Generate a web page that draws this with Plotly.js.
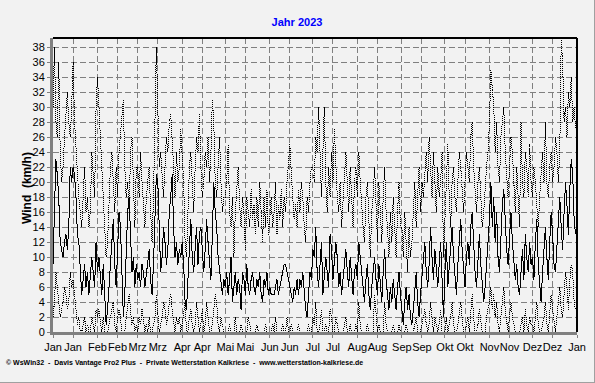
<!DOCTYPE html>
<html>
<head>
<meta charset="utf-8">
<script src="https://cdn.plot.ly/plotly-3.0.1.min.js"></script>
<style>
html,body{margin:0;padding:0;background:#f2f2f2;}
#chart{width:594px;height:382px;border-right:1px solid #a0a0a0;border-bottom:1px solid #a0a0a0;}
#chart .scatterlayer path.js-line{shape-rendering:crispEdges;}
</style>
</head>
<body>
<div id="chart"></div>
<script>
// Month tick labels (German)
const monthNames = ['Jan','Feb','Mrz','Apr','Mai','Jun','Jul','Aug','Sep','Okt','Nov','Dez'];

// Daily mean wind speed 2023 (km/h), Jan 1 .. Dec 31
const meanWind = [
  9,15,23,21,18,12,11,10,12,13,11,14,22,20,22,21,18,13,12,8,5,7,9,6,8,5,7,10,8,6,12,
  8,10,7,5,9,4,1,3,6,9,12,15,9,6,11,16,14,7,2,5,10,16,18,12,8,10,6,9,
  7,8,6,9,8,6,8,9,11,7,5,9,14,21,20,12,8,10,14,12,9,11,16,18,21,14,10,12,9,11,10,
  12,9,4,3,7,12,15,10,8,11,14,9,13,14,10,8,11,15,12,9,7,13,20,16,14,10,8,6,5,7,
  6,8,5,7,10,4,6,8,5,7,6,3,8,7,5,9,6,5,7,8,6,5,7,6,8,5,4,7,6,8,5,
  6,5,5,5,6,7,5,6,7,8,9,9,8,7,6,5,4,6,5,7,5,7,6,8,5,3,2,6,8,7,
  11,10,14,8,6,9,12,5,7,10,8,6,13,11,7,9,12,10,6,8,5,7,9,11,8,6,10,7,5,8,9,
  7,12,10,8,6,4,7,9,5,3,6,8,10,7,5,9,6,4,8,11,7,5,3,6,4,7,5,3,6,8,5,
  3,1,4,6,3,5,2,1,3,6,8,4,2,5,7,10,12,8,6,9,14,10,7,11,8,6,9,12,7,2,
  8,12,6,9,11,14,10,7,5,9,13,15,11,8,6,10,12,9,14,16,11,8,6,10,13,9,7,4,6,9,12,
  15,20,14,18,12,16,10,8,13,17,19,14,11,9,13,16,12,10,7,9,6,5,8,11,7,13,10,8,12,9,
  10,7,12,15,9,6,4,8,11,14,10,7,12,16,13,9,8,12,15,18,14,11,16,20,17,13,19,23,21,15,13
];

// Daily maximum (gust) 2023 (km/h)
const maxWind = [
  30,38,28,26,36,24,20,22,26,30,32,28,26,30,36,28,24,20,18,16,14,18,22,16,18,14,16,24,20,18,30,
  34,30,26,22,20,14,10,12,18,22,24,20,16,22,18,24,26,28,31,22,18,20,16,24,26,20,14,22,
  22,18,24,20,16,14,18,20,22,16,12,18,26,38,30,22,24,20,18,22,26,24,28,29,26,22,18,24,20,22,27,
  23,20,12,10,16,22,24,20,16,22,26,24,29,22,18,20,24,22,26,20,24,31,28,20,18,22,26,20,16,18,
  18,20,25,16,14,18,10,16,20,22,17,14,18,16,11,18,16,14,19,15,17,13,18,14,20,16,12,18,14,19,13,
  15,18,14,16,20,13,17,15,19,14,18,16,20,22,25,21,18,15,17,14,19,16,20,18,14,12,18,16,20,22,
  22,20,26,24,30,22,18,24,30,20,16,22,18,24,20,27,22,18,16,20,14,18,22,24,20,16,22,18,14,20,22,
  18,24,20,16,14,12,18,20,14,10,16,18,22,16,12,20,16,12,18,22,16,14,10,16,12,18,14,10,16,20,14,
  14,10,16,12,8,14,10,12,16,20,14,18,22,16,20,18,22,24,20,26,22,18,24,20,16,22,18,20,24,10,
  16,20,25,18,14,20,22,18,16,20,24,22,18,16,20,24,22,20,26,28,22,18,16,20,22,18,14,16,20,22,24,
  28,35,32,30,24,28,22,20,26,28,30,24,20,18,22,26,24,20,16,22,18,14,28,20,18,24,22,18,25,20,
  18,22,20,16,14,18,22,24,20,28,20,18,22,24,20,22,26,24,20,24,39,36,28,30,26,32,30,34,28,30,27
];

// Daily minimum 2023 (km/h)
const minWind = [
  2,4,8,6,4,2,3,4,6,5,3,4,8,6,7,5,3,1,2,0,0,1,2,0,1,0,0,2,1,0,3,
  2,3,1,0,2,0,0,0,1,2,3,4,1,0,2,3,2,0,0,0,2,4,5,3,1,2,0,1,
  0,2,1,3,1,0,1,0,2,0,0,1,2,5,3,0,1,2,4,3,1,2,4,5,3,1,0,2,1,2,0,
  1,3,4,0,0,2,3,1,0,1,4,2,0,1,3,0,1,4,2,0,0,1,3,5,4,1,0,2,1,0,
  0,0,0,1,0,0,0,2,0,0,0,1,0,0,0,0,2,1,0,0,0,0,1,0,0,0,0,0,1,0,0,
  0,0,1,0,2,0,0,0,0,1,0,0,2,0,0,1,0,0,0,0,1,0,0,0,0,0,0,1,0,0,
  2,1,4,0,0,1,3,0,0,1,0,0,3,2,0,0,2,1,0,0,0,0,1,2,0,0,1,0,0,0,1,
  0,4,1,0,0,0,0,1,0,0,0,0,5,3,0,1,0,0,0,4,1,0,0,0,0,1,0,0,0,1,0,
  0,0,0,1,0,0,0,0,0,1,2,0,0,0,1,2,3,1,0,1,4,2,0,2,1,0,1,3,0,0,
  0,2,0,1,2,4,1,0,0,1,3,4,2,0,0,1,2,0,3,5,2,0,0,1,3,1,0,0,0,2,3,
  4,6,3,5,2,4,1,0,2,5,6,3,1,0,2,4,2,1,0,0,0,0,1,2,0,3,1,0,2,1,
  1,0,2,4,1,0,0,1,2,4,1,0,2,5,3,1,0,2,4,6,3,2,5,8,6,3,7,9,8,4,3
];

const yearStart = Date.UTC(2023,0,1);
const xs = meanWind.map((_, i) => new Date(yearStart + i*86400000).toISOString().slice(0,10));

const tickvals = [], ticktext = [];
for (let m = 0; m < 12; m++) {
  const mm = String(m+1).padStart(2,'0');
  tickvals.push('2023-'+mm+'-01'); ticktext.push(monthNames[m]);
  tickvals.push('2023-'+mm+'-15'); ticktext.push(monthNames[m]);
}
tickvals.push('2024-01-01'); ticktext.push(monthNames[0]);

const font = 'Liberation Sans, Arial, sans-serif';

const traces = [
  {x: xs, y: maxWind, type:'scatter', mode:'lines', line:{color:'#000', width:1, dash:'1px,1px'}, hoverinfo:'skip'},
  {x: xs, y: minWind, type:'scatter', mode:'lines', line:{color:'#000', width:1, dash:'1px,1px'}, hoverinfo:'skip'},
  {x: xs, y: meanWind, type:'scatter', mode:'lines', line:{color:'#000', width:1}, hoverinfo:'skip'}
];

const axisCommon = {
  showgrid:true, gridcolor:'#808080', gridwidth:1, griddash:'6px,3px',
  showline:true, linecolor:'#808080', linewidth:3,
  ticks:'outside', ticklen:3, tickcolor:'#808080', tickwidth:1,
  tickfont:{family:font, size:11, color:'#000'}, zeroline:false, fixedrange:true
};

const layout = {
  width:594, height:382,
  margin:{l:53, r:17, t:38, b:50, pad:0},
  paper_bgcolor:'#f2f2f2', plot_bgcolor:'#f2f2f2',
  showlegend:false,
  font:{family:font, color:'#000'},
  title:{text:'<b>Jahr 2023</b>', font:{family:font, size:11, color:'#0000ff'},
         x:0.5, xref:'container', xanchor:'center', y:1-22/382, yref:'container', yanchor:'middle'},
  xaxis: Object.assign({}, axisCommon, {
    type:'date', range:['2023-01-01','2024-01-01'],
    tickmode:'array', tickvals:tickvals, ticktext:ticktext, tickangle:0
  }),
  yaxis: Object.assign({}, axisCommon, {
    range:[0, 39.2], tickmode:'linear', tick0:0, dtick:2
  }),
  shapes:[
    {type:'line', xref:'paper', yref:'paper', x0:0, x1:1, y0:1, y1:1, line:{color:'#000', width:2}},
    {type:'line', xref:'paper', yref:'paper', x0:1, x1:1, y0:0, y1:1, line:{color:'#000', width:2}}
  ],
  annotations:[
    {text:'<b>Wind  (km/h)</b>', xref:'paper', yref:'paper', x:(27-53)/524, y:(332-188)/294,
     textangle:-90, showarrow:false, xanchor:'center', yanchor:'middle',
     font:{family:font, size:12, color:'#000'}},
    {text:'<b>© WsWin32  -  Davis Vantage Pro2 Plus  -  Private Wetterstation Kalkriese  -  www.wetterstation-kalkriese.de</b>',
     xref:'paper', yref:'paper', x:(4-53)/524, y:(332-363)/294, xanchor:'left', yanchor:'middle',
     showarrow:false, font:{family:font, size:7, color:'#000'}}
  ]
};

Plotly.newPlot('chart', traces, layout, {staticPlot:true, displayModeBar:false});
</script>
</body>
</html>
